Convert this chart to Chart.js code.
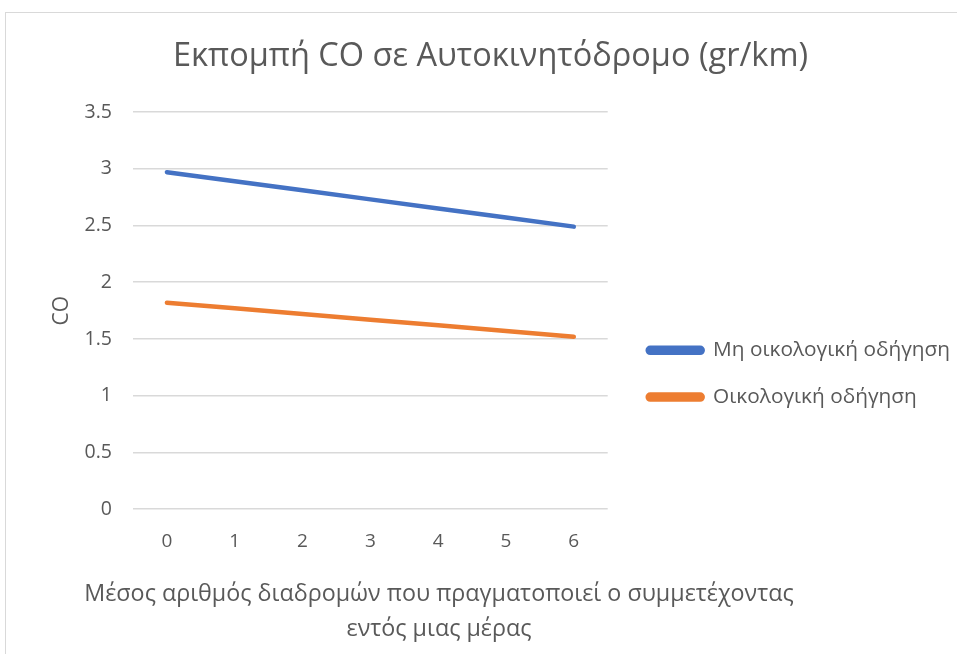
<!DOCTYPE html>
<html>
<head>
<meta charset="utf-8">
<script src="https://cdn.jsdelivr.net/npm/chart.js@4.4.1/dist/chart.umd.min.js"></script>
<style>
  html, body { margin: 0; padding: 0; background: #fff; overflow: hidden; }
  #frame { position: absolute; left: 5px; top: 12px; width: 1000px; height: 700px; border: 1px solid #d9d9d9; }
  #wrap { position: absolute; left: 0; top: 0; width: 957px; height: 654px; }
</style>
</head>
<body>
<div id="frame"></div>
<div id="wrap"><canvas id="myChart"></canvas></div>
<script>
const categories = ['0', '1', '2', '3', '4', '5', '6'];
const nonEco = [2.97, 2.89, 2.81, 2.73, 2.65, 2.57, 2.49];
const eco = [1.82, 1.77, 1.72, 1.67, 1.62, 1.57, 1.52];
const seriesNames = ['Μη οικολογική οδήγηση', 'Οικολογική οδήγηση'];
const chartTitle = 'Εκπομπή CO σε Αυτοκινητόδρομο (gr/km)';
const yTitle = 'CO';
const xTitle = ['Μέσος αριθμός διαδρομών που πραγματοποιεί ο συμμετέχοντας', 'εντός μιας μέρας'];

const textColor = '#595959';
const fontFam = '"Open Sans", sans-serif';

// x axis title, centred the way Excel places it
const xTitlePlugin = {
    id: 'xTitle',
    afterDraw(chart) {
        const c = chart.ctx;
        c.save();
        c.fillStyle = textColor;
        c.font = '23.3px ' + fontFam;
        c.textAlign = 'center';
        c.textBaseline = 'middle';
        const y0 = chart.scales.x.bottom + 29;
        xTitle.forEach((t, i) => c.fillText(t, 439, y0 + i * 35));
        c.restore();
    }
};

const ctx = document.getElementById('myChart').getContext('2d');
const myChart = new Chart(ctx, {
    type: 'line',
    data: {
        labels: categories,
        datasets: [{
            label: seriesNames[0],
            data: nonEco,
            yAxisID: 'y',
            borderColor: '#4472C4',
            backgroundColor: '#4472C4',
            borderWidth: 4.5,
            pointRadius: 0,
            borderCapStyle: 'round'
        }, {
            label: seriesNames[1],
            data: eco,
            yAxisID: 'y',
            borderColor: '#ED7D31',
            backgroundColor: '#ED7D31',
            borderWidth: 4.5,
            pointRadius: 0,
            borderCapStyle: 'round'
        }]
    },
    options: {
        responsive: true,
        maintainAspectRatio: false,
        animation: false,
        layout: { padding: { left: 21, right: -3, top: 0, bottom: 89 } },
        plugins: {
            title: {
                display: true,
                text: chartTitle,
                color: textColor,
                font: { family: fontFam, size: 32.5, weight: 'normal' },
                padding: { top: 37.5, bottom: 35.5 }
            },
            legend: {
                position: 'right',
                maxWidth: 500,
                title: { display: true, text: '', padding: { top: 0, bottom: 168 } },
                labels: {
                    color: textColor,
                    font: { family: fontFam, size: 20.8 },
                    boxWidth: 55,
                    boxHeight: 5,
                    useBorderRadius: true,
                    borderRadius: 2.5,
                    padding: 26
                }
            },
            tooltip: { enabled: false }
        },
        scales: {
            x: {
                offset: true,
                grid: { display: false },
                border: { display: false },
                ticks: { color: textColor, font: { family: fontFam, size: 19 }, padding: 12.5 }
            },
            y: {
                min: 0,
                max: 3.5,
                afterFit(s) { s.width = 112; },
                ticks: {
                    stepSize: 0.5,
                    color: textColor,
                    font: { family: fontFam, size: 19.5 },
                    padding: 21,
                    callback: v => String(v)
                },
                grid: { color: '#d9d9d9', lineWidth: 1.5, drawTicks: false },
                border: { display: false },
                title: { display: true, text: yTitle, color: textColor, font: { family: fontFam, size: 21 }, padding: { top: 28.4, bottom: 0 } }
            },
            // spacer between plot and legend
            gap: {
                axis: 'y',
                position: 'right',
                grid: { display: false },
                border: { display: false },
                ticks: { display: false },
                afterFit(s) { s.width = 14; }
            }
        }
    },
    plugins: [xTitlePlugin]
});
</script>
</body>
</html>
